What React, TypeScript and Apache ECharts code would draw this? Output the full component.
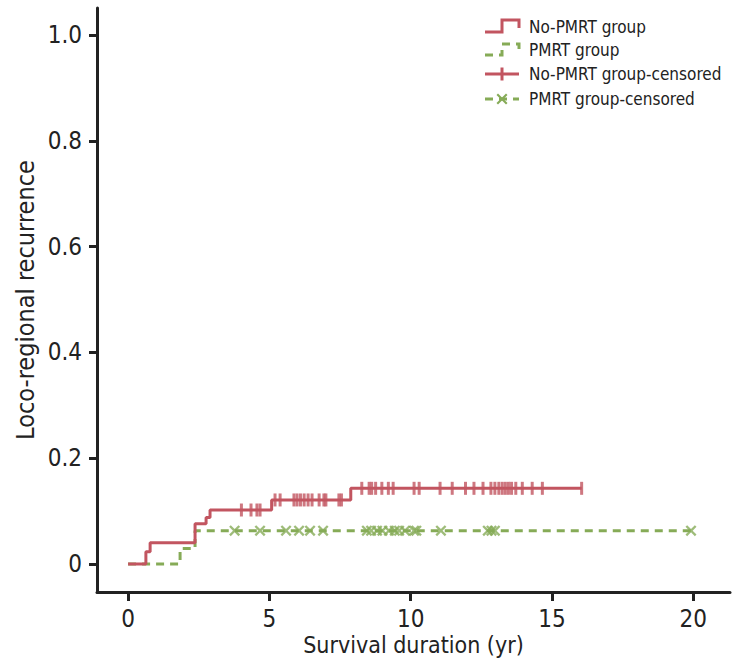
import React, { useEffect, useRef } from 'react';
import * as echarts from 'echarts';

// Kaplan-Meier step curves: [time (yr), cumulative recurrence]
const noPmrtCurve: [number, number][] = [
  [0, 0], [0.63, 0.023], [0.78, 0.04], [2.37, 0.076], [2.76, 0.088],
  [2.9, 0.102], [5.08, 0.121], [7.88, 0.143], [16.05, 0.143],
];
const pmrtCurve: [number, number][] = [
  [0, 0], [1.84, 0.029], [2.37, 0.063], [19.92, 0.063],
];

// Censoring times (yr)
const noPmrtCensorTimes: number[] = [
  4.01, 4.35, 4.56, 4.67,
  5.2, 5.38, 5.87, 5.98, 6.1, 6.23, 6.37, 6.51, 6.76, 6.93, 7.0, 7.46, 7.55,
  8.27, 8.53, 8.62, 8.76, 8.98, 9.21, 9.38, 10.12, 10.3, 11.04, 11.47, 11.94,
  12.24, 12.56, 12.84, 12.98, 13.12, 13.24, 13.35, 13.46, 13.57, 13.72, 13.95,
  14.3, 14.66, 16.05,
];
const pmrtCensorTimes: number[] = [
  3.77, 4.67, 5.59, 6.05, 6.44, 6.9, 8.45, 8.6, 8.81, 9.0, 9.23, 9.44, 9.59,
  9.8, 10.12, 10.2, 11.07, 12.73, 12.86, 12.98, 19.92,
];

const yTicks: number[] = [0, 0.2, 0.4, 0.6, 0.8, 1.0];
const xTicks: number[] = [0, 5, 10, 15, 20];

const seriesNames = ['No-PMRT group', 'PMRT group', 'No-PMRT group-censored', 'PMRT group-censored'];

const RED = '#c25560';
const GREEN = '#86ab57';
const INK = '#222222';
const FONT = '"Liberation Sans Narrow", "DejaVu Sans Condensed", "Roboto", sans-serif';

function levelAt(curve: [number, number][], t: number): number {
  let v = curve[0][1];
  for (const [x, y] of curve) {
    if (x <= t) v = y;
  }
  return v;
}

const X_PATH =
  'path://M0,1.5 L1.5,0 L5,3.5 L8.5,0 L10,1.5 L6.5,5 L10,8.5 L8.5,10 L5,6.5 L1.5,10 L0,8.5 L3.5,5 Z';

export default function App() {
  const ref = useRef<HTMLDivElement>(null);

  useEffect(() => {
    document.body.style.margin = '0';
    if (!ref.current) return;
    const chart = echarts.init(ref.current, null, { renderer: 'svg' });

    const legendX = 485;
    const legendTextX = 529;
    const rows = [27, 50, 74, 99];

    const option: any = {
      animation: false,
      backgroundColor: '#ffffff',
      textStyle: { fontFamily: FONT },
      grid: { left: 97, right: 14, top: 8, bottom: 72 },
      xAxis: {
        type: 'value',
        min: -1.1,
        max: 21.3,
        name: 'Survival duration (yr)',
        nameLocation: 'middle',
        nameGap: 41,
        nameMoveOverlap: false,
        nameTextStyle: { fontSize: 23, color: INK, fontFamily: FONT },
        axisLine: { show: true, onZero: false, lineStyle: { color: INK, width: 3 } },
        axisTick: { show: true, length: 9, lineStyle: { color: INK, width: 3 }, customValues: xTicks },
        axisLabel: {
          fontSize: 24, color: INK, fontFamily: FONT, margin: 15,
          customValues: xTicks,
          formatter: (v: number) => String(v),
        },
        splitLine: { show: false },
      },
      yAxis: {
        type: 'value',
        min: -0.053,
        max: 1.051,
        name: 'Loco-regional recurrence',
        nameLocation: 'middle',
        nameGap: 59,
        nameMoveOverlap: false,
        nameTextStyle: { fontSize: 25, color: INK, fontFamily: FONT },
        axisLine: { show: true, onZero: false, lineStyle: { color: INK, width: 3 } },
        axisTick: { show: true, length: 8, lineStyle: { color: INK, width: 3 }, customValues: yTicks },
        axisLabel: {
          fontSize: 24, color: INK, fontFamily: FONT, margin: 15,
          customValues: yTicks,
          formatter: (v: number) => (v === 0 ? '0' : v.toFixed(1)),
        },
        splitLine: { show: false },
      },
      series: [
        {
          name: seriesNames[1],
          type: 'line',
          step: 'end',
          data: pmrtCurve,
          showSymbol: false,
          lineStyle: { color: GREEN, width: 3, type: [8, 6] },
          itemStyle: { color: GREEN },
          z: 2,
        },
        {
          name: seriesNames[3],
          type: 'scatter',
          data: pmrtCensorTimes.map((t) => [t, levelAt(pmrtCurve, t)]),
          symbol: X_PATH,
          symbolSize: 11,
          itemStyle: { color: GREEN },
          z: 3,
        },
        {
          name: seriesNames[0],
          type: 'line',
          step: 'end',
          data: noPmrtCurve,
          showSymbol: false,
          lineStyle: { color: RED, width: 3 },
          itemStyle: { color: RED },
          z: 4,
        },
        {
          name: seriesNames[2],
          type: 'scatter',
          data: noPmrtCensorTimes.map((t) => [t, levelAt(noPmrtCurve, t)]),
          symbol: 'rect',
          symbolSize: [3, 13],
          itemStyle: { color: RED },
          z: 5,
        },
      ],
      graphic: [
        {
          type: 'polyline',
          shape: { points: [[legendX, 32], [502, 32], [502, 20], [519, 20], [519, 28]] },
          style: { stroke: RED, lineWidth: 3, fill: null },
        },
        {
          type: 'polyline',
          shape: { points: [[legendX, 55], [502, 55], [502, 44], [519, 44], [519, 52]] },
          style: { stroke: GREEN, lineWidth: 3, fill: null, lineDash: [8, 6] },
        },
        {
          type: 'line',
          shape: { x1: legendX, y1: 74, x2: 519, y2: 74 },
          style: { stroke: RED, lineWidth: 3 },
        },
        {
          type: 'rect',
          shape: { x: 500.5, y: 67.5, width: 3, height: 13 },
          style: { fill: RED },
        },
        {
          type: 'line',
          shape: { x1: legendX, y1: 99, x2: 519, y2: 99 },
          style: { stroke: GREEN, lineWidth: 3, lineDash: [8, 6] },
        },
        {
          type: 'polygon',
          shape: {
            points: [
              [496.5, 95], [498, 93.5], [502, 97.5], [506, 93.5], [507.5, 95], [503.5, 99],
              [507.5, 103], [506, 104.5], [502, 100.5], [498, 104.5], [496.5, 103], [500.5, 99],
            ],
          },
          style: { fill: GREEN },
        },
        ...seriesNames.map((name, i) => ({
          type: 'text',
          x: legendTextX,
          y: rows[i],
          style: {
            text: name,
            fill: INK,
            fontSize: 17,
            fontFamily: FONT,
            verticalAlign: 'middle',
            align: 'left',
          },
        })),
      ],
    };

    chart.setOption(option);
    return () => {
      chart.dispose();
    };
  }, []);

  return <div ref={ref} style={{ width: 744, height: 664 }} />;
}
